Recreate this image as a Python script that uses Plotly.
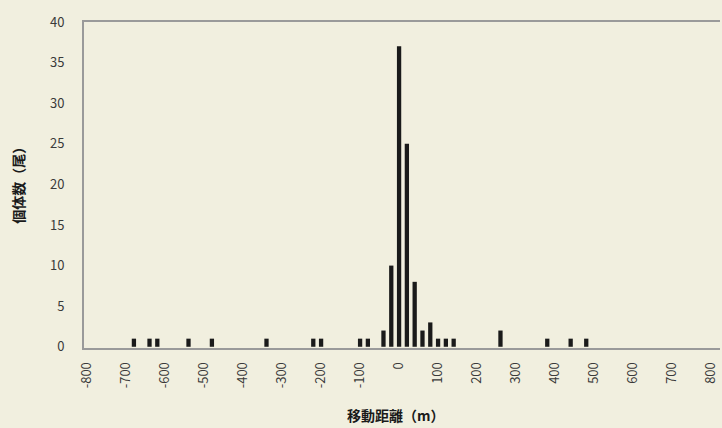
import plotly.graph_objects as go

# Movement distance bins (m) and counts (individuals)
distance_m = [-680, -640, -620, -540, -480, -340, -220, -200, -100, -80,
              -40, -20, 0, 20, 40, 60, 80, 100, 120, 140,
              260, 380, 440, 480]
counts = [1, 1, 1, 1, 1, 1, 1, 1, 1, 1,
          2, 10, 37, 25, 8, 2, 3, 1, 1, 1,
          2, 1, 1, 1]

x_ticks = list(range(-800, 801, 100))
y_ticks = list(range(0, 41, 5))
x_title = "移動距離（m）"
y_title = "個体数（尾）"

FONT = "Noto Sans CJK JP"
BG = "#f1efdf"

fig = go.Figure(go.Bar(
    x=distance_m, y=counts, width=11,
    marker=dict(color="#1a1a1a", line=dict(width=0)),
))

fig.update_layout(
    width=722, height=428,
    margin=dict(l=84, r=2, t=22, b=80),
    paper_bgcolor=BG, plot_bgcolor=BG,
    showlegend=False,
    font=dict(family=FONT, size=13, color="#3a3a3a"),
    xaxis=dict(
        range=[-808, 823], tickvals=x_ticks, ticktext=[str(v) for v in x_ticks],
        tickangle=-90, showgrid=False, zeroline=False,
        showline=True, linecolor="#9a9a9a", linewidth=2, mirror=True,
        ticks="", ticklabelstandoff=7,
        tickfont=dict(size=13, color="#3a3a3a"),
    ),
    yaxis=dict(
        range=[-0.15, 40], tickvals=y_ticks, showgrid=False, zeroline=False,
        showline=True, linecolor="#9a9a9a", linewidth=2,
        ticks="", ticklabelstandoff=15,
        tickfont=dict(size=13, color="#3a3a3a"),
    ),
    annotations=[
        dict(text="<b>" + x_title + "</b>", xref="paper", yref="paper", x=0.49, y=0, yshift=-67,
             showarrow=False, font=dict(size=14, color="#1a1a1a"),
             xanchor="center", yanchor="middle"),
        dict(text="<b>" + y_title + "</b>", xref="paper", yref="paper", x=0, xshift=-66, y=0.51,
             textangle=-90, showarrow=False, font=dict(size=14, color="#1a1a1a"),
             xanchor="center", yanchor="middle"),
    ],
)

fig.write_html(
    "out.html",
    config={"displayModeBar": False},
    post_script="document.body.style.margin='0';document.body.style.background='" + BG + "';",
)
